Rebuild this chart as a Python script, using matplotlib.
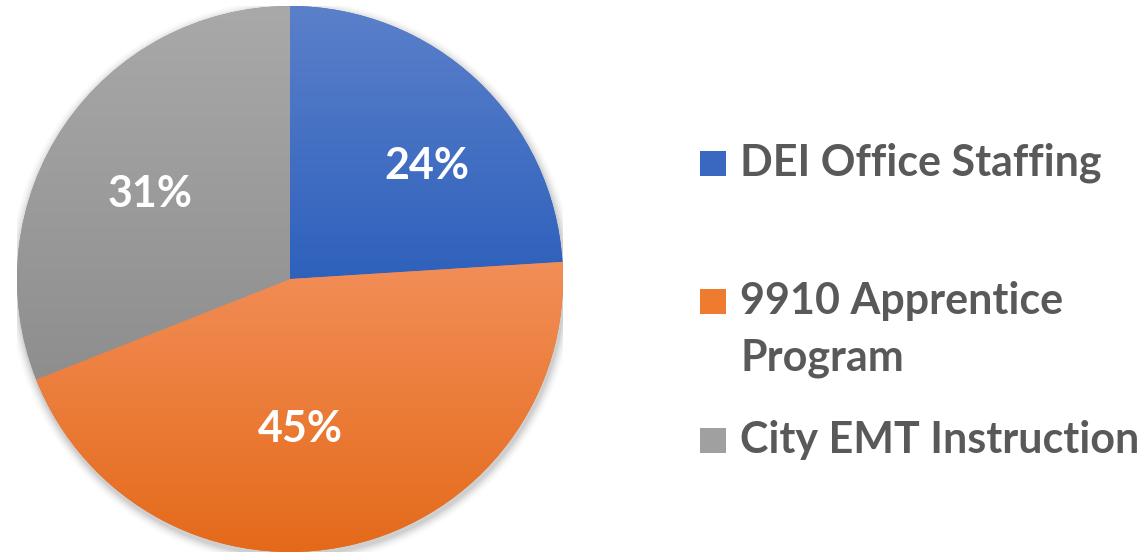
import numpy as np
import matplotlib
matplotlib.use("Agg")
import matplotlib.pyplot as plt
from matplotlib.colors import LinearSegmentedColormap
from matplotlib.patches import Rectangle, Circle

# ===== 数据 =====
labels = ["DEI Office Staffing", "9910 Apprentice\nProgram", "City EMT Instruction"]
shares = [24, 45, 31]
# 每块的渐变色（上 -> 下）
top_colors = ["#5b80ca", "#f28e58", "#a9a9a9"]
bottom_colors = ["#2e61bc", "#e46918", "#8e8e8e"]
legend_colors = ["#3a68c0", "#ee7b2e", "#a0a0a0"]

# 标签位置微调（半径比例，角度偏移）
label_r = [0.65, 0.55, 0.60]
label_shift = [-7.3, -8.6, 3]

plt.rcParams['font.family'] = ['Lato', 'DejaVu Sans']

W, H = 1148, 554
fig = plt.figure(figsize=(W / 100, H / 100), dpi=100)

cx, cy, R = 290, 279, 273
ax = fig.add_axes([(cx - R) / W, (H - cy - R) / H, 2 * R / W, 2 * R / H])
ax.set_xlim(-1.0, 1.0)
ax.set_ylim(-1.0, 1.0)
ax.set_aspect('equal')
ax.axis('off')

# 柔和阴影
for i, a in enumerate(np.linspace(0.05, 0.012, 6)):
    ax.add_patch(Circle((0.004, -0.012), 1.0 + 0.006 * (i + 1), color='black',
                        alpha=a, lw=0, zorder=0))

wedges, _ = ax.pie(shares, startangle=90, counterclock=False, radius=1.0,
                   wedgeprops=dict(lw=0))

grad = np.linspace(0, 1, 256).reshape(-1, 1)
for w, c0, c1 in zip(wedges, top_colors, bottom_colors):
    w.set_zorder(1)
    verts = w.get_path().vertices
    ext = w.get_patch_transform().transform(verts)
    y0, y1 = ext[:, 1].min(), ext[:, 1].max()
    x0, x1 = ext[:, 0].min(), ext[:, 0].max()
    cmap = LinearSegmentedColormap.from_list("g", [c0, c1])
    im = ax.imshow(grad, cmap=cmap, extent=(x0, x1, y0, y1), origin='upper',
                   aspect='auto', zorder=2)
    im.set_clip_path(w)
    w.set_facecolor(c1)
ax.set_xlim(-1.0, 1.0)
ax.set_ylim(-1.0, 1.0)

# 百分比标签
for w, s, r, d in zip(wedges, shares, label_r, label_shift):
    mid = np.deg2rad((w.theta1 + w.theta2) / 2 + d)
    ax.text(r * np.cos(mid), r * np.sin(mid), f"{s}%", color='white',
            fontsize=31, fontweight='bold', ha='center', va='center', zorder=5)

# 图例
legend_y = [163, 301, 440]
for lab, col, yy in zip(labels, legend_colors, legend_y):
    fig.patches.append(Rectangle((700 / W, 1 - (yy + 12.5) / H), 26 / W, 25 / H,
                                 transform=fig.transFigure, facecolor=col,
                                 edgecolor='none'))
    first, *rest = lab.split("\n")
    fig.text(740 / W, 1 - yy / H, first, color='#595959', fontsize=31,
             fontweight='bold', ha='left', va='center')
    for k, line in enumerate(rest, 1):
        fig.text(740 / W, 1 - (yy + 57 * k) / H, line, color='#595959',
                 fontsize=31, fontweight='bold', ha='left', va='center')

fig.savefig("out.png", dpi=100, facecolor='white')
